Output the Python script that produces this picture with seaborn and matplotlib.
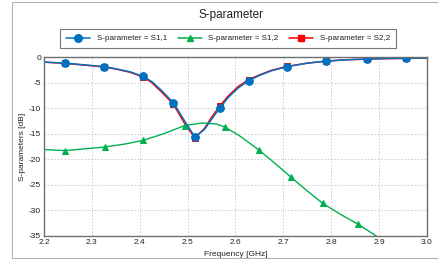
import matplotlib
matplotlib.use("Agg")
import matplotlib.pyplot as plt
from matplotlib.lines import Line2D
from matplotlib.patches import Rectangle
import seaborn as sns

# Данные
freq_s11 = [2.20, 2.244, 2.28, 2.326, 2.35, 2.38, 2.407, 2.425, 2.445, 2.47, 2.495, 2.515,
            2.535, 2.55, 2.567, 2.585, 2.605, 2.628, 2.65, 2.675, 2.707, 2.75, 2.79, 2.83,
            2.874, 2.92, 2.957, 3.00]
s11 = [-1.0, -1.2, -1.5, -1.9, -2.3, -2.9, -3.8, -4.8, -6.5, -8.9, -12.7, -15.6,
       -14.2, -12.2, -10.0, -7.9, -6.1, -4.6, -3.6, -2.7, -1.9, -1.2, -0.8, -0.55,
       -0.4, -0.3, -0.25, -0.2]
s22 = [-1.0, -1.25, -1.55, -1.95, -2.35, -3.0, -3.9, -5.0, -6.8, -9.2, -13.2, -15.8,
       -14.0, -11.8, -9.6, -7.6, -5.8, -4.4, -3.5, -2.6, -1.85, -1.2, -0.8, -0.55,
       -0.4, -0.3, -0.27, -0.2]
marks_s11 = [1, 3, 6, 9, 11, 14, 17, 20, 22, 24, 26]

freq_s12 = [2.20, 2.244, 2.28, 2.327, 2.37, 2.407, 2.45, 2.494, 2.53, 2.56, 2.578, 2.61,
            2.649, 2.68, 2.716, 2.75, 2.782, 2.82, 2.856, 2.894, 2.93]
s12 = [-18.1, -18.3, -18.0, -17.6, -17.0, -16.3, -15.0, -13.4, -12.9, -13.1, -13.7, -15.5,
       -18.2, -20.6, -23.5, -26.2, -28.6, -30.8, -32.7, -35.0, -37.2]
marks_s12 = [1, 3, 5, 7, 10, 12, 14, 16, 18]

labels = ["S-parameter = S1,1", "S-parameter = S1,2", "S-parameter = S2,2"]
x_ticks = [2.2, 2.3, 2.4, 2.5, 2.6, 2.7, 2.8, 2.9, 3.0]
y_ticks = [0, -5, -10, -15, -20, -25, -30, -35]

BLUE = "#0070C0"
GREEN = "#00B050"
RED = "#FF0000"
TXT = "#222222"

sns.set_style("white")
plt.rcParams["font.family"] = ["Liberation Sans", "DejaVu Sans"]

fig = plt.figure(figsize=(4.39, 2.64), dpi=100)
ax = fig.add_axes([44 / 439, 1 - 236 / 264, (427 - 44) / 439, (236 - 57) / 264])

# рамка панели
fig.patches.append(Rectangle((12 / 439, 1 - 258 / 264), 1.0, (258 - 2) / 264,
                             transform=fig.transFigure, fill=False,
                             edgecolor="#b4b4b4", linewidth=0.8))

sns.lineplot(x=freq_s11, y=s22, ax=ax, color=RED, linewidth=1.1,
             marker="s", markersize=5, markevery=marks_s11, markeredgecolor=RED,
             sort=False, estimator=None)
sns.lineplot(x=freq_s12, y=s12, ax=ax, color=GREEN, linewidth=1.0,
             marker="^", markersize=5, markevery=marks_s12, markeredgecolor=GREEN,
             sort=False, estimator=None)
sns.lineplot(x=freq_s11, y=s11, ax=ax, color=BLUE, linewidth=1.1,
             marker="o", markersize=5.5, markevery=marks_s11, markeredgecolor=BLUE,
             sort=False, estimator=None)

ax.set_xlim(2.2, 3.0)
ax.set_ylim(-35, 0)
ax.set_xticks(x_ticks)
ax.set_xticklabels([f"{t:.1f}" for t in x_ticks])
ax.set_yticks(y_ticks)
ax.set_yticklabels([str(t) for t in y_ticks])
ax.tick_params(length=0, labelsize=6, pad=2, colors=TXT)
ax.grid(True, linestyle=(0, (2, 2)), color="#c8c8c8", linewidth=0.6)
for side in ["top", "right", "left", "bottom"]:
    ax.spines[side].set_color("#6e6e6e")
    ax.spines[side].set_linewidth(1.0)
ax.set_xlabel("Frequency [GHz]", fontsize=6, labelpad=4, color=TXT)
ax.set_ylabel("S-parameters [dB]", fontsize=6, labelpad=2, color=TXT)

fig.text(231 / 439, 1 - 15 / 264, "S-parameter", ha="center", va="center", fontsize=8.5,
         color=TXT)

handles = [
    Line2D([], [], color=BLUE, marker="o", markersize=5.5, linewidth=1.1),
    Line2D([], [], color=GREEN, marker="^", markersize=5, linewidth=1.1),
    Line2D([], [], color=RED, marker="s", markersize=5, linewidth=1.1),
]
leg = fig.legend(handles, labels, loc="center", bbox_to_anchor=(228 / 439, 1 - 38.5 / 264),
                 ncol=3, fontsize=5.8, frameon=True, fancybox=False, handlelength=3.0,
                 columnspacing=1.3, handletextpad=0.8, borderpad=0.75, labelcolor=TXT)
leg.get_frame().set_edgecolor("#555555")
leg.get_frame().set_linewidth(0.8)

fig.savefig("out.png", dpi=100)
